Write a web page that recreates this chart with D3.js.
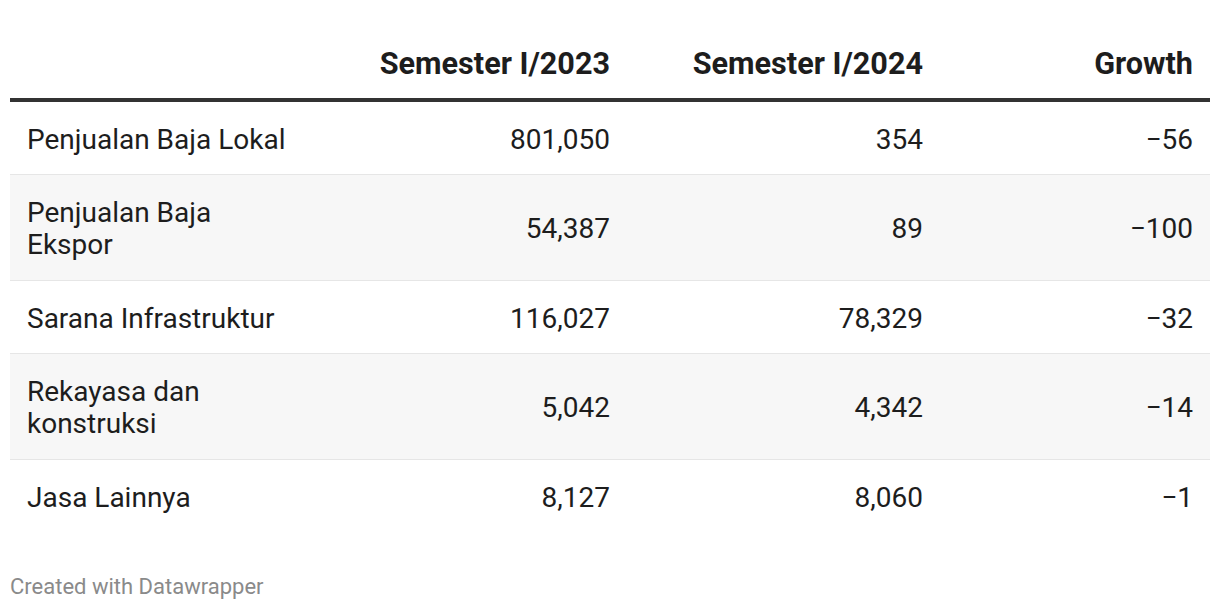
<!DOCTYPE html>
<html>
<head>
<meta charset="utf-8">
<script src="https://cdn.jsdelivr.net/npm/d3@7"></script>
<style>
  body { margin: 0; background: #fff; }
  svg { display: block; font-family: Roboto, "Noto Sans", sans-serif; }
</style>
</head>
<body>
<svg id="table"></svg>
<script>
const headers = ["Semester I/2023", "Semester I/2024", "Growth"];
const categories = ["Penjualan Baja Lokal", "Penjualan Baja Ekspor", "Sarana Infrastruktur", "Rekayasa dan konstruksi", "Jasa Lainnya"];
const sem2023 = [801050, 54387, 116027, 5042, 8127];
const sem2024 = [354, 89, 78329, 4342, 8060];
const growth = [-56, -100, -32, -14, -1];

const width = 1220, height = 610;
const left = 10, right = 1210;
const labelX = 27;
const labelMaxW = 266;
const colRight = [610, 923, 1193];
const lineH = 32;
const tableTop = 102;
const bodySize = 28;

const svg = d3.select("#table").attr("width", width).attr("height", height);
const fmt = d3.format(",");

// header
svg.selectAll(".head")
    .data(headers)
    .join("text")
    .attr("class", "head")
    .attr("x", (d, i) => colRight[i])
    .attr("y", 74)
    .attr("text-anchor", "end")
    .attr("font-size", 30.6)
    .attr("font-weight", 700)
    .attr("fill", "#1d1d1d")
    .text(d => d);

// wrap labels by measuring
const measure = svg.append("text").attr("font-size", bodySize).attr("visibility", "hidden");
function wrap(str) {
    const words = str.split(" ");
    const lines = [];
    let cur = "";
    words.forEach(w => {
        const test = cur ? cur + " " + w : w;
        measure.text(test);
        if (cur && measure.node().getComputedTextLength() > labelMaxW) {
            lines.push(cur);
            cur = w;
        } else cur = test;
    });
    lines.push(cur);
    return lines;
}

const rows = categories.map((c, i) => ({
    label: wrap(c),
    values: [fmt(sem2023[i]), fmt(sem2024[i]), fmt(growth[i])]
}));
measure.remove();

let y = tableTop;
rows.forEach(r => {
    r.y0 = y;
    r.h = 40 + r.label.length * 33;
    y += r.h;
});

const rowG = svg.append("g").selectAll(".row")
    .data(rows)
    .join("g")
    .attr("class", "row")
    .attr("transform", d => `translate(0,${d.y0})`);

rowG.append("rect")
    .attr("x", left)
    .attr("width", right - left)
    .attr("height", d => d.h)
    .attr("fill", (d, i) => i % 2 ? "#f7f7f7" : "#fff");

rowG.filter((d, i) => i < rows.length - 1)
    .append("rect")
    .attr("x", left)
    .attr("y", d => d.h - 1)
    .attr("width", right - left)
    .attr("height", 2)
    .attr("fill", "#e6e6e6");

rowG.each(function (d) {
    const row = d3.select(this);
    const mid = d.h / 2;
    const first = mid - (d.label.length - 1) * lineH / 2 + 10;
    row.selectAll(".lab")
        .data(d.label)
        .join("text")
        .attr("class", "lab")
        .attr("x", labelX)
        .attr("y", (l, j) => first + j * lineH)
        .attr("font-size", bodySize)
        .attr("fill", "#1d1d1d")
        .text(l => l);
    row.selectAll(".val")
        .data(d.values)
        .join("text")
        .attr("class", "val")
        .attr("x", (v, j) => colRight[j])
        .attr("y", mid + 10)
        .attr("text-anchor", "end")
        .attr("font-size", bodySize)
        .attr("fill", "#1d1d1d")
        .text(v => v);
});

// thick header rule
svg.append("rect")
    .attr("x", left)
    .attr("y", 98)
    .attr("width", right - left)
    .attr("height", 4)
    .attr("fill", "#333");

svg.append("text")
    .attr("x", 10)
    .attr("y", 594)
    .attr("font-size", 22)
    .attr("fill", "#8a8a8a")
    .text("Created with Datawrapper");
</script>
</body>
</html>
